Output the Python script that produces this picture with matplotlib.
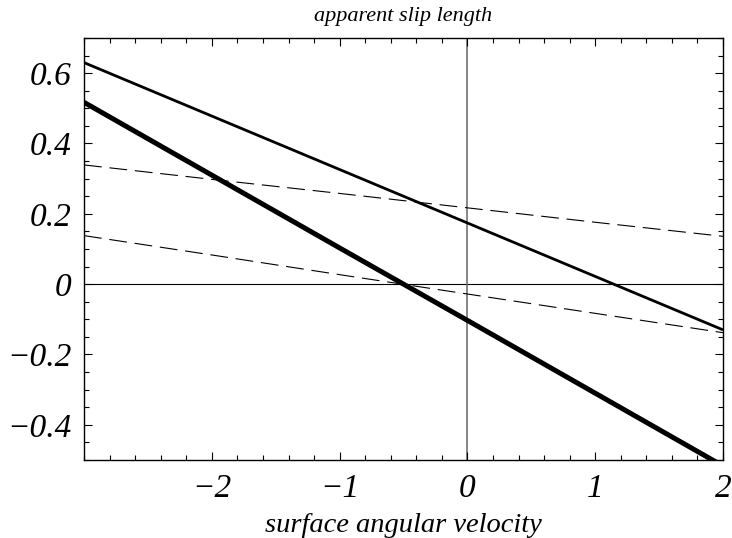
import matplotlib
matplotlib.use("Agg")
import matplotlib.pyplot as plt
from matplotlib.ticker import MultipleLocator, FuncFormatter

# surface angular velocity and the apparent slip length for four cases
omega = [-3.0, -2.0, -1.0, 0.0, 1.0, 2.0]
slip_thick = [0.517, 0.310, 0.103, -0.103, -0.310, -0.517]
slip_medium = [0.630, 0.478, 0.326, 0.174, 0.022, -0.130]
slip_dash_upper = [0.339, 0.298, 0.258, 0.217, 0.176, 0.136]
slip_dash_lower = [0.138, 0.083, 0.027, -0.028, -0.083, -0.138]

x_major = [-2, -1, 0, 1, 2]
y_major = [-0.4, -0.2, 0, 0.2, 0.4, 0.6]

plt.rcParams["font.family"] = ["Liberation Serif", "DejaVu Serif"]
plt.rcParams["font.style"] = "italic"

fig = plt.figure(figsize=(7.32, 5.38), dpi=100)
ax = fig.add_axes([0.1148, 0.145, 0.8729, 0.7844])

ax.axhline(0, color="black", lw=0.8, zorder=1)
ax.axvline(0, color="#666666", lw=1.1, zorder=1)

ax.plot(omega, slip_thick, color="black", lw=3.6, solid_capstyle="butt")
ax.plot(omega, slip_medium, color="black", lw=2.0, solid_capstyle="butt")
ax.plot(omega, slip_dash_upper, color="black", lw=0.8, dashes=(16, 7))
ax.plot(omega, slip_dash_lower, color="black", lw=0.8, dashes=(16, 7))

ax.set_xlim(-3, 2)
ax.set_ylim(-0.5, 0.7)

ax.set_xticks(x_major)
ax.set_yticks(y_major)
ax.xaxis.set_minor_locator(MultipleLocator(0.2))
ax.yaxis.set_minor_locator(MultipleLocator(0.05))


def fmt(v, pos):
    if abs(v) < 1e-9:
        return "0"
    s = f"{v:g}"
    return s.replace("-", "\u2212")


ax.xaxis.set_major_formatter(FuncFormatter(fmt))
ax.yaxis.set_major_formatter(FuncFormatter(fmt))

ax.tick_params(which="both", direction="in", top=True, right=True,
               labelsize=24, width=0.8)
ax.tick_params(which="major", length=6)
ax.tick_params(which="minor", length=3.5)
ax.tick_params(axis="x", pad=10)
ax.tick_params(axis="y", pad=9)

for lab in ax.get_xticklabels() + ax.get_yticklabels():
    lab.set_fontstyle("italic")

for sp in ax.spines.values():
    sp.set_linewidth(1.0)

ax.set_title("apparent slip length", fontsize=16, pad=12, fontstyle="italic")
ax.set_xlabel("surface angular velocity", fontsize=20.5, labelpad=6,
              fontstyle="italic")

fig.savefig("out.png", dpi=100)
